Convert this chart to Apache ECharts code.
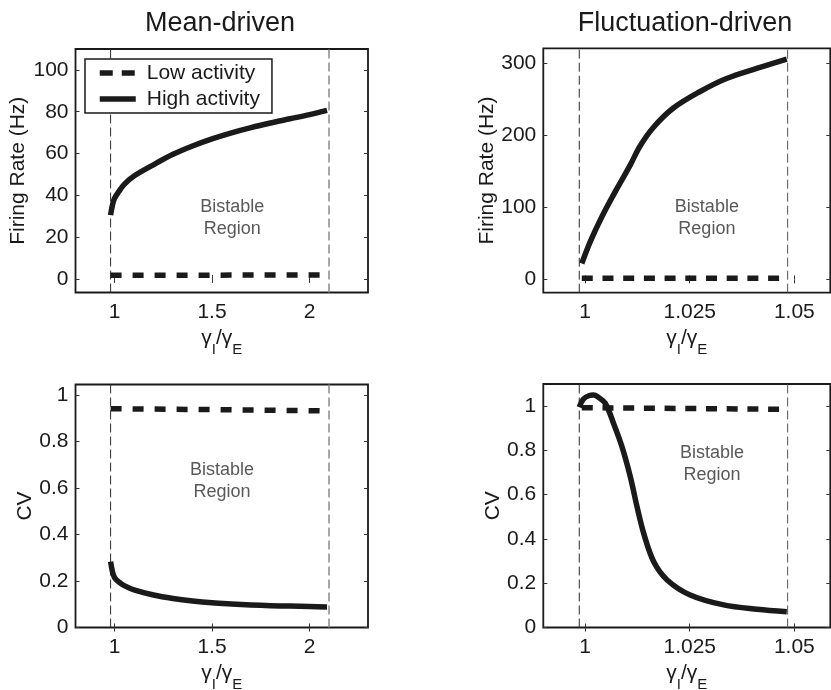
<!DOCTYPE html>
<html>
<head>
<meta charset="utf-8">
<script src="https://cdn.jsdelivr.net/npm/echarts@6/dist/echarts.min.js"></script>
<style>
  html, body { margin: 0; padding: 0; background: #fff; }
  #chart { width: 831px; height: 690px; }
</style>
</head>
<body>
<div id="chart"></div>
<script>
// Rate and CV of the low- and high-activity states versus gamma_I / gamma_E

const panelTitles = ['Mean-driven', 'Fluctuation-driven'];
const seriesNames = ['Low activity', 'High activity'];
const regionText = 'Bistable\nRegion';
const rateAxisName = 'Firing Rate (Hz)';
const cvAxisName = 'CV';

// Mean-driven regime
const meanGamma = [0.98, 0.99, 1.0, 1.02, 1.05, 1.1, 1.2, 1.3, 1.4, 1.5, 1.6, 1.7, 1.8, 1.9, 2.0, 2.09];
const meanRateHigh = [30.5, 35.5, 38.5, 41.5, 45.2, 49.2, 54.6, 59.6, 63.6, 67.0, 69.9, 72.4, 74.6, 76.6, 78.6, 80.6];
const meanCvHigh = [0.283, 0.238, 0.215, 0.197, 0.180, 0.162, 0.140, 0.125, 0.114, 0.106, 0.101, 0.097, 0.094, 0.092, 0.090, 0.088];
const meanGammaLow = [0.98, 1.5, 2.054];
const meanRateLow = [1.7, 1.8, 1.9];
const meanCvLow = [0.941, 0.937, 0.932];
const meanBounds = [0.98, 2.1];

// Fluctuation-driven regime
const flucGammaRate = [0.9992, 1.0012, 1.004, 1.0076, 1.0108, 1.0131, 1.0163, 1.0211, 1.0275, 1.0338, 1.041, 1.0482];
const flucRateHigh = [22, 52, 87, 126, 159, 185, 211, 238, 261, 279, 293, 306];
const flucGammaCv = [0.9986, 0.9995, 1.001, 1.002, 1.003, 1.0048, 1.0068, 1.0088, 1.0108, 1.0124, 1.014, 1.0164, 1.0196, 1.0251, 1.0331, 1.0411, 1.0482];
const flucCvHigh = [0.995, 1.03, 1.048, 1.05, 1.042, 1.013, 0.922, 0.817, 0.681, 0.546, 0.425, 0.297, 0.215, 0.147, 0.102, 0.082, 0.071];
const flucGammaLow = [0.9992, 1.0466];
const flucRateLow = [1.5, 1.5];
const flucCvLow = [0.993, 0.986];
const flucBounds = [0.9986, 1.0484];

// Tick values
const meanXTicks = [1, 1.5, 2];
const flucXTicks = [1, 1.025, 1.05];
const meanRateTicks = [0, 20, 40, 60, 80, 100];
const flucRateTicks = [0, 100, 200, 300];
const cvTicks = [0, 0.2, 0.4, 0.6, 0.8, 1];

const FONT = "'Liberation Sans', Arial, Helvetica, sans-serif";
const INK = '#1a1a1a';

const zip = (xs, ys) => xs.map((x, i) => [x, ys[i]]);

// Layout of the four axes boxes
const panels = [
  { grid: { left: 75.5, top: 49, width: 292.5, height: 243.5 }, x: [0.8, 2.3], y: [-6.5, 110],
    xTicks: meanXTicks, yTicks: meanRateTicks, yName: rateAxisName, yGap: 57,
    bounds: meanBounds, boundColors: ['#2a2a2a', '#8a8a8a'],
    low: zip(meanGammaLow, meanRateLow), high: zip(meanGamma, meanRateHigh), lowDash: [11, 11],
    region: [1.604, 29.1] },
  { grid: { left: 543.3, top: 48.3, width: 287, height: 244.4 }, x: [0.99, 1.0586], y: [-18.5, 321],
    xTicks: flucXTicks, yTicks: flucRateTicks, yName: rateAxisName, yGap: 56,
    bounds: flucBounds, boundColors: ['#2a2a2a', '#555'],
    low: zip(flucGammaLow, flucRateLow), high: zip(flucGammaRate, flucRateHigh), lowDash: [11, 9.7],
    region: [1.0291, 85.7] },
  { grid: { left: 75.5, top: 384.5, width: 292.5, height: 243 }, x: [0.8, 2.3], y: [0, 1.045],
    xTicks: meanXTicks, yTicks: cvTicks, yName: cvAxisName, yGap: 50,
    bounds: meanBounds, boundColors: ['#2a2a2a', '#8a8a8a'],
    low: zip(meanGammaLow, meanCvLow), high: zip(meanGamma, meanCvHigh), lowDash: [11, 11],
    region: [1.551, 0.630] },
  { grid: { left: 543.3, top: 384, width: 287, height: 243.5 }, x: [0.99, 1.0586], y: [0, 1.1],
    xTicks: flucXTicks, yTicks: cvTicks, yName: cvAxisName, yGap: 50,
    bounds: flucBounds, boundColors: ['#2a2a2a', '#555'],
    low: zip(flucGammaLow, flucCvLow), high: zip(flucGammaCv, flucCvHigh), lowDash: [11, 9.7],
    region: [1.0303, 0.738] }
];

const tickStyle = { show: true, inside: true, length: 4, lineStyle: { color: '#333', width: 1 } };
const labelStyle = { fontSize: 21, color: '#1a1a1a', fontFamily: FONT };

const grids = [], xAxes = [], yAxes = [], series = [];

panels.forEach((p, g) => {
  grids.push(Object.assign({
    show: true, borderColor: INK, borderWidth: 1.8, backgroundColor: '#fff',
    containLabel: false, outerBoundsMode: 'none'
  }, p.grid));

  // bottom and top x axes
  xAxes.push({
    type: 'value', gridIndex: g, min: p.x[0], max: p.x[1], position: 'bottom',
    axisLine: { show: false }, splitLine: { show: false },
    axisTick: Object.assign({ customValues: p.xTicks }, tickStyle),
    axisLabel: Object.assign({ customValues: p.xTicks, margin: 9 }, labelStyle),
    name: '{g|γ}{s|I}{g|/γ}{s|E}', nameLocation: 'middle', nameGap: 35,
    nameTextStyle: {
      fontFamily: FONT, color: '#1a1a1a',
      rich: {
        g: { fontSize: 21, lineHeight: 21, verticalAlign: 'top', fontFamily: FONT, color: '#1a1a1a' },
        s: { fontSize: 15, lineHeight: 29.5, verticalAlign: 'bottom', fontFamily: FONT, color: '#1a1a1a' }
      }
    }
  });
  xAxes.push({
    type: 'value', gridIndex: g, min: p.x[0], max: p.x[1], position: 'top',
    axisLine: { show: false }, splitLine: { show: false },
    axisTick: Object.assign({ customValues: p.xTicks }, tickStyle),
    axisLabel: { show: false }
  });

  // left and right y axes
  yAxes.push({
    type: 'value', gridIndex: g, min: p.y[0], max: p.y[1], position: 'left',
    axisLine: { show: false }, splitLine: { show: false },
    axisTick: Object.assign({ customValues: p.yTicks }, tickStyle),
    axisLabel: Object.assign({ customValues: p.yTicks, margin: 7 }, labelStyle),
    name: p.yName, nameLocation: 'middle', nameGap: p.yGap,
    nameTextStyle: { fontSize: 21, color: '#1a1a1a', fontFamily: FONT, verticalAlign: 'middle' }
  });
  yAxes.push({
    type: 'value', gridIndex: g, min: p.y[0], max: p.y[1], position: 'right',
    axisLine: { show: false }, splitLine: { show: false },
    axisTick: Object.assign({ customValues: p.yTicks }, tickStyle),
    axisLabel: { show: false }
  });

  const xi = 2 * g, yi = 2 * g;

  // edges of the bistable range
  p.bounds.forEach((b, k) => {
    series.push({
      type: 'line', xAxisIndex: xi, yAxisIndex: yi, silent: true, symbol: 'none',
      data: [[b, p.y[0]], [b, p.y[1]]],
      lineStyle: { color: p.boundColors[k], width: k === 1 && g % 2 === 0 ? 1.5 : 1, type: [9, 4] },
      z: 1
    });
  });

  series.push({
    name: seriesNames[0], type: 'line', xAxisIndex: xi, yAxisIndex: yi,
    symbol: 'none', data: p.low, z: 3,
    lineStyle: { color: INK, width: 5.5, type: p.lowDash, cap: 'butt' },
    itemStyle: { color: INK }
  });
  series.push({
    name: seriesNames[1], type: 'line', xAxisIndex: xi, yAxisIndex: yi,
    symbol: 'none', smooth: 0.35, data: p.high, z: 4,
    lineStyle: { color: INK, width: 5.5, cap: 'butt', join: 'round' },
    itemStyle: { color: INK }
  });

  series.push({
    type: 'scatter', xAxisIndex: xi, yAxisIndex: yi, silent: true,
    symbolSize: 1, itemStyle: { color: 'rgba(0,0,0,0)' },
    data: [p.region], z: 2,
    label: {
      show: true, position: 'inside', formatter: regionText,
      fontSize: 18, lineHeight: 22, color: '#2e2e2e', fontFamily: FONT, align: 'center'
    }
  });
});

const option = {
  animation: false,
  backgroundColor: '#fff',
  title: [
    { text: panelTitles[0], left: 215, top: 5, textAlign: 'center',
      textStyle: { fontSize: 27, fontWeight: 'normal', color: '#1a1a1a', fontFamily: FONT } },
    { text: panelTitles[1], left: 680, top: 5, textAlign: 'center',
      textStyle: { fontSize: 27, fontWeight: 'normal', color: '#1a1a1a', fontFamily: FONT } }
  ],
  legend: {
    orient: 'vertical', left: 85, top: 59,
    padding: [3.5, 12, 3.5, 12], itemGap: 5, itemWidth: 36, itemHeight: 14,
    borderColor: INK, borderWidth: 1.5, backgroundColor: '#fff',
    selectedMode: false,
    itemStyle: { color: 'rgba(0,0,0,0)', borderWidth: 0 },
    lineStyle: { color: INK, width: 5.5, cap: 'butt' },
    textStyle: { fontSize: 21, color: '#1a1a1a', fontFamily: FONT, padding: [0, 0, 0, 6] },
    data: [
      { name: seriesNames[0], lineStyle: { color: INK, width: 5.5, type: [13, 9], cap: 'butt' } },
      { name: seriesNames[1], lineStyle: { color: INK, width: 5.5, type: 'solid', cap: 'butt' } }
    ]
  },
  grid: grids,
  xAxis: xAxes,
  yAxis: yAxes,
  series: series
};

const chart = echarts.init(document.getElementById('chart'), null, { renderer: 'canvas' });
chart.setOption(option);
</script>
</body>
</html>
